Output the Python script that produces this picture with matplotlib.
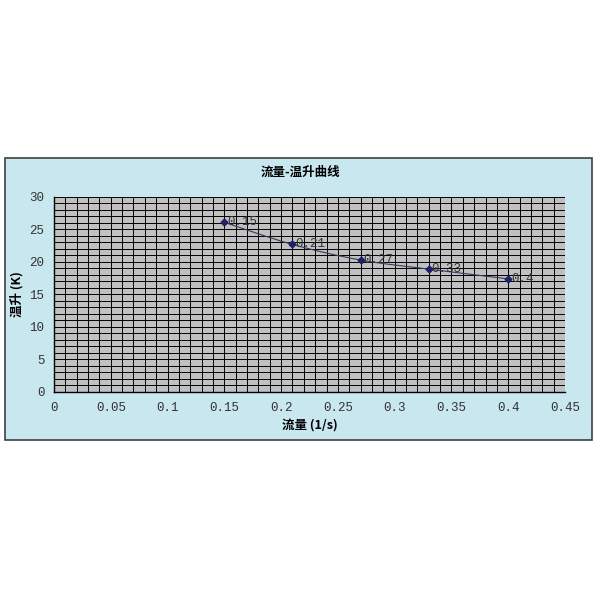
import matplotlib.pyplot as plt
import numpy as np
from matplotlib.patches import Rectangle, PathPatch
from matplotlib.path import Path

plt.rcParams['font.family'] = ['Liberation Mono', 'Noto Sans CJK SC', 'DejaVu Sans']

flow = [0.15, 0.21, 0.27, 0.33, 0.4]
temp_rise = [26.1, 22.7, 20.3, 18.9, 17.4]
point_labels = ['0.15', '0.21', '0.27', '0.33', '0.4']
x_ticks = [0, 0.05, 0.1, 0.15, 0.2, 0.25, 0.3, 0.35, 0.4, 0.45]
x_tick_labels = ['0', '0.05', '0.1', '0.15', '0.2', '0.25', '0.3', '0.35', '0.4', '0.45']
y_ticks = [0, 5, 10, 15, 20, 25, 30]

fig = plt.figure(figsize=(6, 6), dpi=100)

# chart area
fig.patches.append(Rectangle((5 / 600, 1 - 440 / 600), 587 / 600, 282 / 600,
                             transform=fig.transFigure, facecolor='#C9E7EE',
                             edgecolor='#404040', linewidth=1.2, zorder=-10))

ax = fig.add_axes([0.09, 0.3467, 0.8517, 0.325])
ax.set_zorder(5)
ax.set_facecolor('#C0C0C0')
ax.set_xlim(0, 0.45)
ax.set_ylim(0, 30)

ax.set_xticks(x_ticks)
ax.set_xticklabels(x_tick_labels, fontsize=9, color='#333333')
ax.set_yticks(y_ticks)
ax.set_yticklabels([str(v) for v in y_ticks], fontsize=9, color='#333333')
ax.set_xticks(np.arange(0, 0.451, 0.01), minor=True)
ax.set_yticks(np.arange(0, 30.1, 1), minor=True)
ax.tick_params(which='both', length=0, pad=7)
ax.grid(True, which='both', color='black', linewidth=0.7)
ax.set_axisbelow(True)
for s in ['top', 'right']:
    ax.spines[s].set_visible(False)
for s in ['left', 'bottom']:
    ax.spines[s].set_color('black')
    ax.spines[s].set_linewidth(1.0)

# smoothed line (Catmull-Rom style, like Excel)
pts = np.column_stack([flow, temp_rise])
verts = [tuple(pts[0])]
codes = [Path.MOVETO]
n = len(pts)
for i in range(n - 1):
    p0 = pts[i - 1] if i > 0 else pts[i]
    p1 = pts[i]
    p2 = pts[i + 1]
    p3 = pts[i + 2] if i + 2 < n else pts[i + 1]
    c1 = p1 + (p2 - p0) / 6
    c2 = p2 - (p3 - p1) / 6
    verts += [tuple(c1), tuple(c2), tuple(p2)]
    codes += [Path.CURVE4] * 3
ax.add_patch(PathPatch(Path(verts, codes), facecolor='none',
                       edgecolor='#3A3A5A', linewidth=0.8, zorder=3))
ax.plot(flow, temp_rise, linestyle='none', marker='D', markersize=3.5,
        color='#1F1F6B', zorder=4)
for x, y, lab in zip(flow, temp_rise, point_labels):
    ax.annotate(lab, (x, y), xytext=(2, 0), textcoords='offset points',
                fontsize=9, color='#333333', va='center', ha='left', zorder=5)

ax.set_xlabel('流量 (1/s)', fontsize=9, fontweight='bold',
              family=['Noto Sans CJK SC', 'DejaVu Sans'], labelpad=4)
ax.set_ylabel('温升 (K)', fontsize=9, fontweight='bold',
              family=['Noto Sans CJK SC', 'DejaVu Sans'], labelpad=4)
fig.text(0.5, 1 - 172 / 600, '流量-温升曲线', ha='center', va='center',
         fontsize=9, fontweight='bold', family=['Noto Sans CJK SC', 'DejaVu Sans'])

fig.savefig('out.png', dpi=100, facecolor='white')
